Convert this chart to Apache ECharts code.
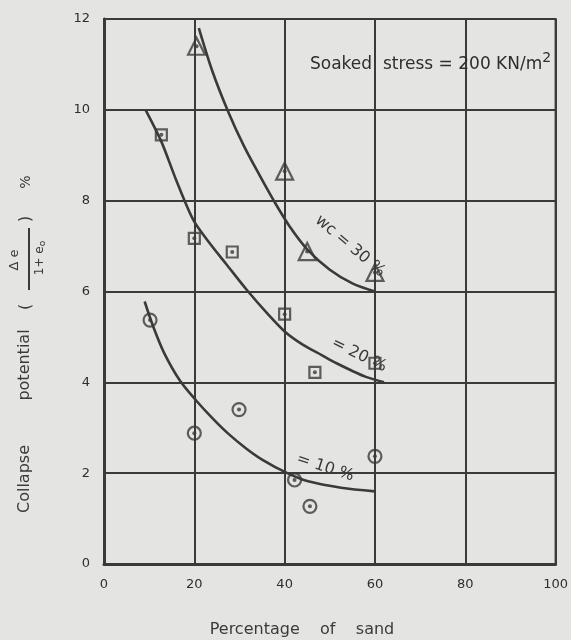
<!DOCTYPE html>
<html>
<head>
<meta charset="utf-8">
<script src="https://cdn.jsdelivr.net/npm/echarts@6/dist/echarts.min.js"></script>
<style>
  html, body { margin: 0; padding: 0; background: #e4e4e2; }
  #chart { width: 571px; height: 640px; }
</style>
</head>
<body>
<div id="chart"></div>
<script>
// Measured points: sand content (%) vs collapse potential (%)
const sand30 = [20.5, 40, 45, 60];
const cp30   = [11.4, 8.65, 6.88, 6.42];

const sand20 = [12.7, 20, 28.4, 40, 46.7, 60];
const cp20   = [9.45, 7.17, 6.87, 5.5, 4.22, 4.42];

const sand10 = [10.2, 20, 29.9, 42.2, 45.6, 60];
const cp10   = [5.37, 2.88, 3.4, 1.85, 1.27, 2.37];

// Hand-drawn trend curves through each water-content group
const fit30X = [21, 24, 27.5, 31, 34.5, 37.6, 41, 45, 50, 55, 60];
const fit30Y = [11.8, 10.85, 9.96, 9.2, 8.55, 8.0, 7.45, 6.93, 6.48, 6.18, 6.0];

const fit20X = [9.2, 12.7, 16, 19.8, 23.5, 27.1, 31.5, 36.3, 40, 44, 48.2, 51.5, 54.8, 58, 62];
const fit20Y = [10.0, 9.3, 8.45, 7.57, 7.05, 6.6, 6.05, 5.5, 5.12, 4.83, 4.6, 4.42, 4.26, 4.12, 4.0];

const fit10X = [9, 11, 13.3, 16.8, 20.4, 24.1, 27.5, 31.4, 35, 40.6, 45.2, 52.5, 60];
const fit10Y = [5.78, 5.2, 4.65, 4.04, 3.6, 3.2, 2.87, 2.55, 2.3, 2.0, 1.82, 1.68, 1.6];

const curveLabels = ['wc = 30 %', '= 20 %', '= 10 %'];
const xTickLabels = ['0', '20', '40', '60', '80', '100'];
const yTickLabels = ['0', '2', '4', '6', '8', '10', '12'];

const INK = '#3a3a3a';
const BG = '#e4e4e2';
const FONT = '"DejaVu Sans", sans-serif';

const zip = (xs, ys) => xs.map((x, i) => [x, ys[i]]);

function hollow(name, symbol, size, xs, ys) {
  return [
    {
      name: name, type: 'scatter', data: zip(xs, ys), symbol: symbol, symbolSize: size,
      itemStyle: { color: 'rgba(0,0,0,0)', borderColor: INK, borderWidth: 2.2 },
      z: 5
    },
    {
      name: name + ' core', type: 'scatter', data: zip(xs, ys), symbol: 'circle', symbolSize: 4,
      itemStyle: { color: INK }, z: 6
    }
  ];
}

function curve(name, xs, ys) {
  return {
    name: name, type: 'line', data: zip(xs, ys), smooth: 0.3,
    showSymbol: false, lineStyle: { color: INK, width: 2.6 }, z: 4
  };
}

const chart = echarts.init(document.getElementById('chart'));

chart.setOption({
  backgroundColor: BG,
  animation: false,
  grid: { left: 104, right: 10, top: 19, bottom: 76, show: true, borderColor: INK, borderWidth: 2 },
  xAxis: {
    type: 'value', min: 0, max: 100, interval: 20,
    axisLine: { show: true, onZero: false, lineStyle: { color: INK, width: 3 } },
    axisTick: { show: false },
    splitLine: { show: true, lineStyle: { color: INK, width: 2 } },
    axisLabel: {
      margin: 14, color: '#2e2e2e', fontSize: 13, fontFamily: FONT,
      formatter: (v) => xTickLabels[Math.round(v / 20)]
    }
  },
  yAxis: {
    type: 'value', min: 0, max: 12, interval: 2,
    axisLine: { show: true, onZero: false, lineStyle: { color: INK, width: 3 } },
    axisTick: { show: false },
    splitLine: { show: true, lineStyle: { color: INK, width: 2 } },
    axisLabel: {
      margin: 14, color: '#2e2e2e', fontSize: 13, fontFamily: FONT,
      formatter: (v) => yTickLabels[Math.round(v / 2)]
    }
  },
  series: [
    curve('fit 30', fit30X, fit30Y),
    curve('fit 20', fit20X, fit20Y),
    curve('fit 10', fit10X, fit10Y),
    ...hollow('wc 30', 'triangle', 17, sand30, cp30),
    ...hollow('wc 20', 'rect', 11, sand20, cp20),
    ...hollow('wc 10', 'circle', 13, sand10, cp10)
  ]
});

// Labels on the curves, anchored in data space
const labelAnchors = [
  { text: curveLabels[0], at: [54.5, 7.0], angle: -40 },
  { text: curveLabels[1], at: [56.5, 4.6], angle: -26 },
  { text: curveLabels[2], at: [49, 2.12], angle: -18 }
];

const curveTexts = labelAnchors.map((a) => {
  const p = chart.convertToPixel({ gridIndex: 0 }, a.at);
  return {
    type: 'text', x: p[0], y: p[1], rotation: a.angle * Math.PI / 180, z: 10,
    style: {
      text: a.text, fill: INK, font: '16px ' + FONT,
      align: 'center', verticalAlign: 'middle'
    }
  };
});

// Rotated y-axis title with the stacked fraction Δe / (1+e₀)
const yTitle = {
  type: 'group', x: 25, y: 640, rotation: Math.PI / 2,
  children: [
    { type: 'text', x: 161, y: 0, style: { text: 'Collapse', fill: INK, font: '16px ' + FONT, align: 'center', verticalAlign: 'middle' } },
    { type: 'text', x: 275, y: 0, style: { text: 'potential', fill: INK, font: '16px ' + FONT, align: 'center', verticalAlign: 'middle' } },
    { type: 'text', x: 333, y: 1, style: { text: '(', fill: INK, font: '16px ' + FONT, align: 'center', verticalAlign: 'middle' } },
    { type: 'text', x: 380, y: -10, style: { text: 'Δ e', fill: INK, font: '13px ' + FONT, align: 'center', verticalAlign: 'middle' } },
    { type: 'line', shape: { x1: 350, y1: 4, x2: 412, y2: 4 }, style: { stroke: INK, lineWidth: 2 } },
    {
      type: 'text', x: 382, y: 15,
      style: {
        text: '1+ e{s|o}', fill: INK, font: '12px ' + FONT, align: 'center', verticalAlign: 'middle',
        rich: { s: { font: '9px ' + FONT, fill: INK, verticalAlign: 'bottom', padding: [6, 0, 0, 0] } }
      }
    },
    { type: 'text', x: 421, y: 1, style: { text: ')', fill: INK, font: '16px ' + FONT, align: 'center', verticalAlign: 'middle' } },
    { type: 'text', x: 458, y: 1, style: { text: '%', fill: INK, font: '14px ' + FONT, align: 'center', verticalAlign: 'middle' } }
  ]
};

const xTitle = {
  type: 'text', x: 302, y: 630, z: 10,
  style: { text: 'Percentage    of    sand', fill: INK, font: '16px ' + FONT, align: 'center', verticalAlign: 'middle' }
};

const stressNote = {
  type: 'text', x: 310, y: 65, z: 10,
  style: {
    text: 'Soaked  stress = 200 KN/m{sup|2}', fill: '#2e2e2e', font: '17px ' + FONT,
    align: 'left', verticalAlign: 'middle',
    rich: { sup: { font: '14px ' + FONT, fill: '#2e2e2e', padding: [0, 0, 14, 0] } }
  }
};

chart.setOption({ graphic: [...curveTexts, yTitle, xTitle, stressNote] });
</script>
</body>
</html>
